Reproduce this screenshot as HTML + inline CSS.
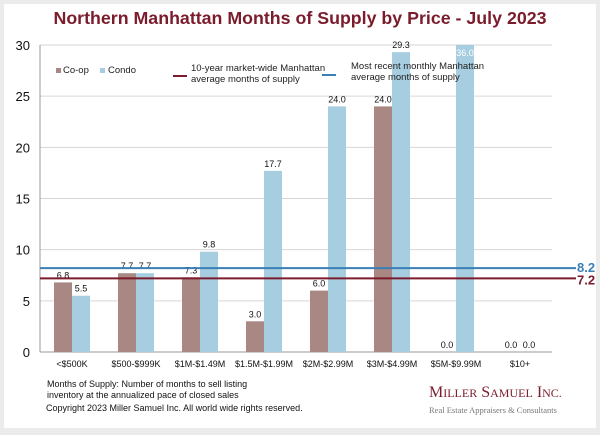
<!DOCTYPE html>
<html><head><meta charset="utf-8"><style>
body{margin:0;background:#ebebeb;font-family:"Liberation Sans",Arial,sans-serif}
#wrap{position:relative;width:600px;height:435px;background:#ebebeb}
#panel{position:absolute;left:4px;top:4px;width:592px;height:424px;background:#fff}
</style></head><body>
<div id="wrap">
<div id="panel"></div>
<svg id="svg" width="600" height="435" style="position:absolute;left:0;top:0" font-family="Liberation Sans, Arial, sans-serif">
<text x="300" y="24" text-anchor="middle" font-size="17.8" font-weight="bold" fill="#7b1c2c">Northern Manhattan Months of Supply by Price - July 2023</text>
<g id="grid"></g><g id="bars"></g><g id="lines"></g>
<g font-size="9.5" fill="#222">
<rect x="56" y="68" width="5" height="5" fill="#a98783"/>
<text x="63" y="73">Co-op</text>
<rect x="100" y="68" width="5" height="5" fill="#a6cde0"/>
<text x="108" y="73">Condo</text>
<line x1="173" y1="76" x2="187" y2="76" stroke="#7b1c2c" stroke-width="2"/>
<text x="191" y="71">10-year market-wide Manhattan</text>
<text x="191" y="82">average months of supply</text>
<line x1="322" y1="75" x2="336" y2="75" stroke="#3a7fb5" stroke-width="2"/>
<text x="351" y="69">Most recent monthly Manhattan</text>
<text x="351" y="80">average months of supply</text>
</g>
<g font-size="9" fill="#111">
<text x="47" y="387">Months of Supply: Number of months to sell listing</text>
<text x="47" y="398">inventory at the annualized pace of closed sales</text>
<text x="46" y="411">Copyright 2023 Miller Samuel Inc.  All world wide rights reserved.</text>
</g>
<text x="429" y="397" font-family="Liberation Serif, serif" font-size="16" fill="#7b1c2c">M<tspan font-size="12">ILLER</tspan> S<tspan font-size="12">AMUEL</tspan> I<tspan font-size="12">NC.</tspan></text>
<text x="429" y="413" font-family="Liberation Serif, serif" font-size="8.5" fill="#777">Real Estate Appraisers &amp; Consultants</text>
</svg>
</div>
<script>
const categories=["<$500K","$500-$999K","$1M-$1.49M","$1.5M-$1.99M","$2M-$2.99M","$3M-$4.99M","$5M-$9.99M","$10+"];
const coop=[6.8,7.7,7.3,3.0,6.0,24.0,0.0,0.0];
const condo=[5.5,7.7,9.8,17.7,24.0,29.3,36.0,0.0];
const yTicks=[0,5,10,15,20,25,30];
const avg10yr=7.2;
const recentAvg=8.2;
const NS="http://www.w3.org/2000/svg";
const X0=40,X1=552,Y0=352,Y1=45,YMAX=30;
const y=v=>Y0-(Math.min(v,YMAX)/YMAX)*(Y0-Y1);
const cw=(X1-X0)/categories.length;
const cx=i=>X0+cw*(i+0.5);
function mk(tag,attrs,parent,txt){const e=document.createElementNS(NS,tag);for(const k in attrs)e.setAttribute(k,attrs[k]);if(txt!=null)e.textContent=txt;parent.appendChild(e);return e;}
const grid=document.getElementById('grid'),bars=document.getElementById('bars'),lines=document.getElementById('lines');
yTicks.forEach(t=>{
 const l=mk('line',{x1:X0,x2:X1,y1:y(t),y2:y(t),stroke:t===0?'#999':'#d6d6d6','stroke-width':1},grid);
 
 
 const tx=mk('text',{x:X0-10,y:y(t)+5,'text-anchor':'end','font-size':13,fill:'#111'},grid,t);
 
 
});
mk('line',{x1:X0,x2:X0,y1:Y1,y2:Y0,stroke:'#999'},grid);
categories.forEach((c,i)=>{
 const t=mk('text',{x:cx(i),y:Y0+15,'text-anchor':'middle','font-size':9,fill:'#111'},grid,c);
 
 
 const bw=18;
 [[coop[i],cx(i)-bw,'#a98783','coop'],[condo[i],cx(i),'#a6cde0','condo']].forEach(([v,x,col,n])=>{
  const r=mk('rect',{x:x,y:y(v),width:bw,height:Y0-y(v),fill:col},bars);
  
  
  const inside=v>YMAX;
  const lb=mk('text',{x:x+bw/2,y:inside?y(v)+11:y(v)-4,'text-anchor':'middle','font-size':9,fill:inside?'#fff':'#111'},bars,v.toFixed(1));
  
  
 });
});
[[recentAvg,'#3a7fb5','recent-avg'],[avg10yr,'#7b1c2c','10yr-avg']].forEach(([v,col,n],k)=>{
 const l=mk('line',{x1:X0,x2:576,y1:y(v),y2:y(v),stroke:col,'stroke-width':2},lines);
 
 
 const t=mk('text',{x:577,y:k===0?y(v)+4:y(v)+6,'font-size':13,'font-weight':'bold',fill:col},lines,v.toFixed(1));
 
 
});
</script>
</body></html>
